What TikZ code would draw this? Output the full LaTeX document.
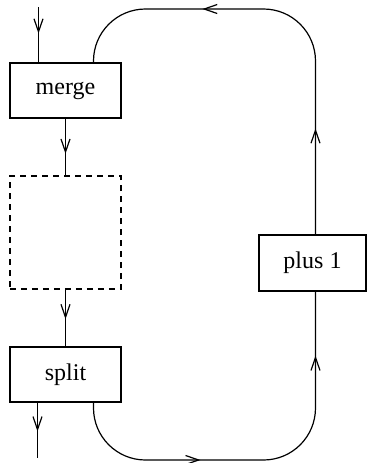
\documentclass[tikz,border=0pt]{standalone}
\usepackage{fontspec}
\setmainfont{Liberation Serif}
\usetikzlibrary{arrows.meta,decorations.markings}
\tikzset{
  box/.style={draw,line width=0.6pt,inner sep=0pt,font=\fontsize{12}{14}\selectfont},
  midarrow/.style={postaction={decorate},decoration={markings,
    mark=at position #1 with {\arrow{Straight Barb[length=6.5pt,width=4.5pt,line width=0.6pt]}}}},
  midarrow/.default=0.55
}
\begin{document}
\begin{tikzpicture}[x=0.5pt,y=-0.5pt,line width=0.6pt]
    \useasboundingbox (0,0) rectangle (367,463);

    % 方框
    \node [box,minimum width=55.5pt,minimum height=27.5pt] (merge) at (65.5,90.5) {merge};
    \node [box,dashed,dash pattern=on 3pt off 2.5pt,minimum width=55.5pt,minimum height=56.5pt] (body) at (65.5,232.5) {};
    \node [box,minimum width=55.5pt,minimum height=27.5pt] (split) at (65.5,374.5) {split};
    \node [box,minimum width=53.5pt,minimum height=28pt] (plus) at (312.5,263) {plus 1};

    % 拐角点
    \coordinate (in) at (38.5,7);
    \coordinate (out) at (37.5,458);
    \coordinate (tl) at (93.5,9);
    \coordinate (tr) at (315.5,9);
    \coordinate (bl) at (93.5,460);
    \coordinate (br) at (315.5,460);

    % 主线
    \draw [midarrow=0.48] (in) -- (in |- merge.north);
    \draw [midarrow=0.62] (merge.south) -- (merge.south |- body.north);
    \draw [midarrow=0.52] (body.south) -- (body.south |- split.north);
    \draw [midarrow=0.52] (split.south -| out) -- (out);

    % 回路
    \draw [rounded corners=26pt,postaction={decorate},decoration={markings,
        mark=at position 53pt with {\arrow{Straight Barb[length=6.5pt,width=4.5pt,line width=0.6pt]}},
        mark=at position -70pt with {\arrow{Straight Barb[length=6.5pt,width=4.5pt,line width=0.6pt]}}}]
      (plus.north -| tr) -- (tr) -- (tl) -- (tl |- merge.north);
    \draw [rounded corners=26pt,postaction={decorate},decoration={markings,
        mark=at position 71pt with {\arrow{Straight Barb[length=6.5pt,width=4.5pt,line width=0.6pt]}},
        mark=at position -32pt with {\arrow{Straight Barb[length=6.5pt,width=4.5pt,line width=0.6pt]}}}]
      (split.south -| bl) -- (bl) -- (br) -- (plus.south -| br);
\end{tikzpicture}
\end{document}
